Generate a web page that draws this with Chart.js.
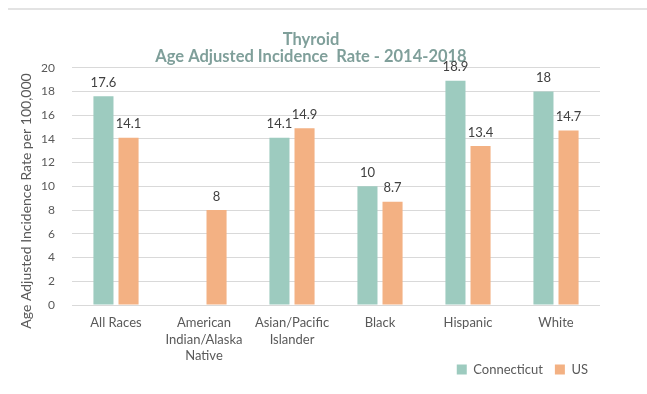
<!DOCTYPE html>
<html>
<head>
<meta charset="utf-8">
<script src="https://cdn.jsdelivr.net/npm/chart.js@4.4.1/dist/chart.umd.min.js"></script>
<style>
  body { margin: 0; background: #fff; }
  #wrap { position: relative; width: 647px; height: 394px; }
  #topline { position: absolute; left: 8px; right: 0; top: 8px; border-top: 2px solid #e3e3e3; }
</style>
</head>
<body>
<div id="wrap">
  <div id="topline"></div>
  <canvas id="thyroid-chart" width="647" height="394"></canvas>
</div>
<script>
var categories = [["All Races"], ["American", "Indian/Alaska", "Native"], ["Asian/Pacific", "Islander"], ["Black"], ["Hispanic"], ["White"]];
var connecticut = [17.6, null, 14.1, 10, 18.9, 18];
var us = [14.1, 8, 14.9, 8.7, 13.4, 14.7];
var yTicks = [0, 2, 4, 6, 8, 10, 12, 14, 16, 18, 20];
var yTitle = "Age Adjusted Incidence Rate per 100,000";

// draw the value above each bar
var barLabels = {
    id: "barLabels",
    afterDatasetsDraw: function(chart) {
        var ctx = chart.ctx;
        ctx.save();
        ctx.font = "13px Lato";
        ctx.fillStyle = "#404040";
        ctx.textAlign = "center";
        ctx.textBaseline = "bottom";
        chart.data.datasets.forEach(function(ds, i) {
            chart.getDatasetMeta(i).data.forEach(function(bar, j) {
                if (ds.data[j] === null) return;
                ctx.fillText(String(ds.data[j]), bar.x, bar.y - 7);
            });
        });
        ctx.restore();
    }
};

// excel puts the axis title a bit lower than the plot centre
var axisTitle = {
    id: "axisTitle",
    afterDraw: function(chart) {
        var ctx = chart.ctx;
        ctx.save();
        ctx.translate(26, 201);
        ctx.rotate(-Math.PI / 2);
        ctx.font = "14px Lato";
        ctx.fillStyle = "#595959";
        ctx.textAlign = "center";
        ctx.textBaseline = "middle";
        ctx.fillText(yTitle, 0, 0);
        ctx.restore();
    }
};

new Chart(document.getElementById("thyroid-chart"), {
    type: "bar",
    data: {
        labels: categories,
        datasets: [{
            label: "Connecticut",
            backgroundColor: "#9dcbbf",
            data: connecticut
        }, {
            label: "US",
            backgroundColor: "#f3b183",
            data: us
        }]
    },
    options: {
        responsive: false,
        animation: false,
        categoryPercentage: 0.57,
        barPercentage: 0.8,
        layout: { padding: { left: 22, right: 47, top: 31, bottom: 8 } },
        plugins: {
            title: {
                display: true,
                text: ["Thyroid", "Age Adjusted Incidence  Rate - 2014-2018"],
                color: "#7f9f9a",
                font: { family: "Lato", size: 16.5, weight: "bold", lineHeight: 1.05 },
                padding: { top: 0, bottom: 2 }
            },
            legend: {
                position: "bottom",
                align: "end",
                labels: {
                    color: "#595959",
                    font: { family: "Lato", size: 13 },
                    boxWidth: 10,
                    boxHeight: 10,
                    padding: 12
                }
            },
            tooltip: { enabled: false }
        },
        scales: {
            x: {
                grid: { display: false, drawTicks: false },
                border: { display: false },
                ticks: { color: "#595959", font: { family: "Lato", size: 13, lineHeight: 1.3 }, maxRotation: 0, autoSkip: false, padding: 9 },
                afterFit: function(axis) {
                    // let the legend sit beside the third label line, as in the original
                    axis.height = 46;
                    axis._computeLabelArea = function() {};
                }
            },
            y: {
                min: 0,
                max: 20,
                afterBuildTicks: function(axis) {
                    axis.ticks = yTicks.map(function(v) { return { value: v }; });
                },
                grid: { color: "#d9d9d9", lineWidth: 1, drawTicks: false },
                border: { display: false },
                ticks: { color: "#595959", font: { family: "Lato", size: 12 }, padding: 17 },
                afterFit: function(axis) { axis.width = 50; }
            }
        }
    },
    plugins: [barLabels, axisTitle]
});
</script>
</body>
</html>
